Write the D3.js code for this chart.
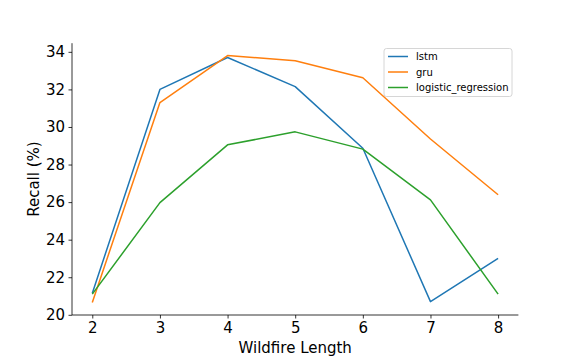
<!DOCTYPE html>
<html>
<head>
<meta charset="utf-8">
<script src="https://cdn.jsdelivr.net/npm/d3@7"></script>
<style>
  body { margin: 0; background: #fff; }
  svg { font-family: "DejaVu Sans", sans-serif; }
</style>
</head>
<body>
<div id="vis"></div>
<script>
// data
var lengths = [2, 3, 4, 5, 6, 7, 8];
var lstm = [21.15, 32.0, 33.7, 32.15, 28.87, 20.7, 23.0];
var gru = [20.66, 31.3, 33.8, 33.53, 32.62, 29.36, 26.39];
var logistic = [21.1, 25.97, 29.05, 29.74, 28.82, 26.12, 21.1];
var seriesNames = ["lstm", "gru", "logistic_regression"];
var seriesColors = ["#1f77b4", "#ff7f0e", "#2ca02c"];
var yTicks = [20, 22, 24, 26, 28, 30, 32, 34];

var width = 576, height = 360;
var margin = {top: 43.2, right: 57.6, bottom: 45, left: 72};

var svg = d3.select("#vis").append("svg")
    .attr("width", width)
    .attr("height", height);

var x_scale = d3.scaleLinear().domain([1.7, 8.3]).range([margin.left, width - margin.right]);
var y_scale = d3.scaleLinear().domain([19.99, 34.46]).range([height - margin.bottom, margin.top]);

// axes
var X = d3.axisBottom(x_scale).tickValues(lengths).tickSize(3.5).tickPadding(3.5).tickFormat(d3.format("d"));
var Y = d3.axisLeft(y_scale).tickValues(yTicks).tickSize(3.5).tickPadding(3.5).tickFormat(d3.format("d"));

var gx = svg.append("g")
    .attr("transform", "translate(0," + (height - margin.bottom) + ")")
    .call(X);
var gy = svg.append("g")
    .attr("transform", "translate(" + margin.left + ",0)")
    .call(Y);

[gx, gy].forEach(function(g){
    g.select(".domain").attr("stroke", "#000").attr("stroke-width", 0.8)
        .attr("d", g === gx
            ? "M" + margin.left + ",0H" + (width - margin.right)
            : "M0," + margin.top + "V" + (height - margin.bottom));
    g.selectAll(".tick line").attr("stroke", "#000").attr("stroke-width", 0.8);
    g.selectAll(".tick text").attr("fill", "#000").style("font-size", "15px")
        .style("font-family", "DejaVu Sans");
});

// lines
var line = d3.line()
    .x(function(d, i){ return x_scale(lengths[i]); })
    .y(function(d){ return y_scale(d); });

[lstm, gru, logistic].forEach(function(vals, i){
    svg.append("path")
        .datum(vals)
        .attr("fill", "none")
        .attr("stroke", seriesColors[i])
        .attr("stroke-width", 1.5)
        .attr("stroke-linejoin", "round")
        .attr("d", line);
});

// axis labels
svg.append("text")
    .attr("x", (margin.left + width - margin.right) / 2)
    .attr("y", 353)
    .attr("text-anchor", "middle")
    .style("font-size", "15px")
    .text("Wildfire Length");

svg.append("text")
    .attr("transform", "translate(39," + ((margin.top + height - margin.bottom) / 2) + ") rotate(-90)")
    .attr("text-anchor", "middle")
    .style("font-size", "15px")
    .text("Recall (%)");

// legend
var leg = svg.append("g").attr("transform", "translate(384,48.5)");
leg.append("rect")
    .attr("width", 128).attr("height", 48)
    .attr("rx", 2.5)
    .attr("fill", "#fff").attr("fill-opacity", 0.8)
    .attr("stroke", "#ccc").attr("stroke-width", 0.8);
seriesNames.forEach(function(name, i){
    var yy = 8 + i * 15.5;
    leg.append("line")
        .attr("x1", 4).attr("x2", 24)
        .attr("y1", yy).attr("y2", yy)
        .attr("stroke", seriesColors[i]).attr("stroke-width", 1.5);
    leg.append("text")
        .attr("x", 32).attr("y", yy + 3.5)
        .style("font-size", "10px")
        .text(name);
});
</script>
</body>
</html>
